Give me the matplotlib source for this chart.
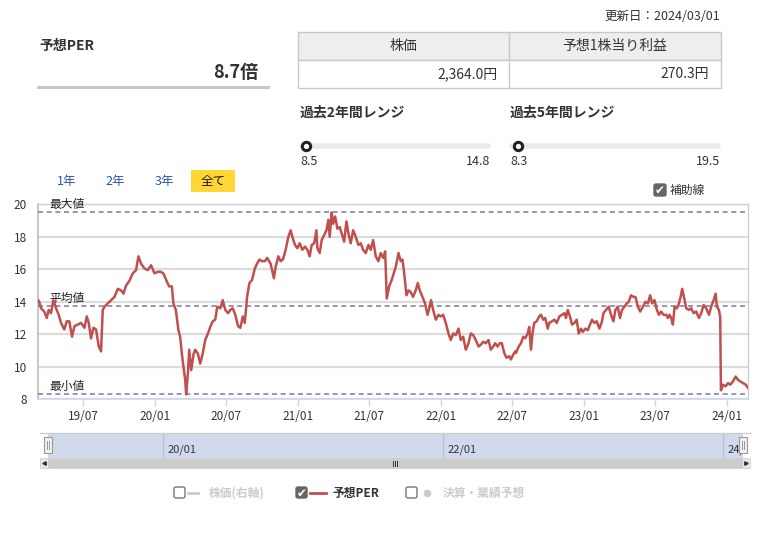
import numpy as np
import pandas as pd
import matplotlib
matplotlib.use('Agg')
import matplotlib.pyplot as plt
import matplotlib.dates as mdates
from matplotlib.patches import Rectangle, FancyBboxPatch
from matplotlib.lines import Line2D

plt.rcParams['font.family'] = ['Noto Sans CJK JP', 'DejaVu Sans']

# ------------------- データ -------------------
update_date = '2024/03/01'
current_per = 8.7
price_text = '2,364.0円'
eps_text = '270.3円'
range_2y = (8.5, 14.8)
range_5y = (8.3, 19.5)
per_max, per_avg, per_min = 19.5, 13.75, 8.3

# 予想PER（時点は小数年で読み取り）
per_year = [
    2019.181, 2019.190, 2019.202, 2019.225, 2019.242, 2019.256, 2019.272, 2019.288, 2019.307, 2019.326,
    2019.342, 2019.365, 2019.382, 2019.400, 2019.419, 2019.436, 2019.459, 2019.482, 2019.506, 2019.522,
    2019.536, 2019.552, 2019.569, 2019.587, 2019.606, 2019.622, 2019.634, 2019.646, 2019.669, 2019.692,
    2019.716, 2019.739, 2019.762, 2019.779, 2019.797, 2019.821, 2019.844, 2019.867, 2019.884, 2019.902,
    2019.926, 2019.949, 2019.972, 2019.996, 2020.019, 2020.038,
    2020.058, 2020.082, 2020.098, 2020.117, 2020.128, 2020.145, 2020.163, 2020.175, 2020.187, 2020.198,
    2020.210, 2020.217, 2020.229, 2020.238, 2020.252, 2020.269, 2020.280, 2020.299, 2020.315, 2020.332,
    2020.350, 2020.369, 2020.385, 2020.402, 2020.420, 2020.434, 2020.455, 2020.472, 2020.490, 2020.509,
    2020.525, 2020.542, 2020.560, 2020.579, 2020.595, 2020.612, 2020.626, 2020.642, 2020.658, 2020.677,
    2020.696, 2020.712, 2020.728, 2020.747, 2020.766, 2020.782, 2020.806, 2020.829,
    2020.841, 2020.860, 2020.876, 2020.892, 2020.911, 2020.930, 2020.946, 2020.958, 2020.976, 2020.993,
    2021.009, 2021.028, 2021.046, 2021.063, 2021.079, 2021.093, 2021.110, 2021.126, 2021.133, 2021.149,
    2021.163, 2021.180, 2021.196, 2021.210, 2021.219, 2021.233, 2021.243, 2021.257, 2021.273, 2021.289,
    2021.303, 2021.320, 2021.336, 2021.350, 2021.366, 2021.383, 2021.401, 2021.420, 2021.436, 2021.453,
    2021.471, 2021.490, 2021.506, 2021.523, 2021.541, 2021.560, 2021.576, 2021.593, 2021.607, 2021.618,
    2021.635, 2021.653, 2021.670,
    2021.681, 2021.700, 2021.716, 2021.728, 2021.739, 2021.756, 2021.770, 2021.786, 2021.802, 2021.821,
    2021.835, 2021.849, 2021.868, 2021.886, 2021.903, 2021.919, 2021.928, 2021.943, 2021.961, 2021.980,
    2021.996, 2022.013, 2022.031, 2022.050, 2022.066, 2022.083, 2022.101, 2022.120, 2022.136, 2022.153,
    2022.171, 2022.190, 2022.206, 2022.223, 2022.241, 2022.260, 2022.276, 2022.293, 2022.311, 2022.330,
    2022.346, 2022.363, 2022.377, 2022.393, 2022.409, 2022.423, 2022.440, 2022.456, 2022.475, 2022.487,
    2022.503, 2022.517,
    2022.522, 2022.541, 2022.557, 2022.573, 2022.587, 2022.604, 2022.615, 2022.627, 2022.639, 2022.650,
    2022.667, 2022.685, 2022.697, 2022.713, 2022.727, 2022.744, 2022.755, 2022.774, 2022.791, 2022.807,
    2022.826, 2022.844, 2022.861, 2022.872, 2022.884, 2022.900, 2022.914, 2022.931, 2022.947, 2022.961,
    2022.977, 2022.989, 2023.008, 2023.024, 2023.040, 2023.054, 2023.071, 2023.087, 2023.106, 2023.124,
    2023.134, 2023.152, 2023.171, 2023.187, 2023.204, 2023.218, 2023.234, 2023.250, 2023.264, 2023.281,
    2023.297, 2023.311, 2023.327, 2023.344, 2023.358,
    2023.375, 2023.391, 2023.410, 2023.428, 2023.445, 2023.461, 2023.475, 2023.491, 2023.508, 2023.522,
    2023.538, 2023.554, 2023.573, 2023.585, 2023.596, 2023.608, 2023.620, 2023.632, 2023.648, 2023.662,
    2023.674, 2023.685, 2023.702, 2023.713, 2023.732, 2023.748, 2023.765, 2023.783, 2023.802, 2023.818,
    2023.835, 2023.853, 2023.872, 2023.888, 2023.905, 2023.919, 2023.928, 2023.942, 2023.951, 2023.956,
    2023.970, 2023.989, 2024.005, 2024.021, 2024.040, 2024.059, 2024.075, 2024.091, 2024.110, 2024.129,
    2024.145,
]
per_value = [
    14.1, 14.0, 13.6, 13.4, 13.0, 13.5, 13.3, 14.1, 13.6, 13.2,
    12.7, 12.3, 12.8, 12.8, 11.85, 12.5, 12.6, 12.7, 12.4, 13.1,
    12.7, 11.75, 12.4, 12.3, 11.25, 10.95, 13.5, 13.7, 13.9, 14.1,
    14.3, 14.8, 14.7, 14.5, 15.0, 15.3, 15.75, 15.95, 16.8, 16.35,
    16.05, 15.95, 16.25, 15.75, 15.85, 15.85,
    15.75, 15.25, 14.95, 14.95, 13.9, 13.5, 12.25, 11.85, 10.8, 10.0,
    9.2, 8.3, 9.6, 11.05, 9.8, 10.8, 11.05, 10.8, 10.2, 10.8,
    11.65, 12.05, 12.45, 12.8, 12.9, 13.7, 13.6, 14.1, 13.5, 13.3,
    13.5, 13.6, 13.2, 12.5, 12.4, 13.1, 12.7, 14.3, 15.15, 15.35,
    16.05, 16.35, 16.6, 16.5, 16.5, 16.7, 16.35, 15.45,
    16.15, 16.8, 16.5, 16.6, 17.2, 18.0, 18.4, 18.0, 17.5, 17.3,
    17.6, 17.2, 17.4, 17.2, 16.8, 17.5, 17.6, 18.4, 17.3, 17.0,
    17.8, 18.1, 18.4, 19.05, 18.0, 19.5, 18.8, 19.25, 18.5, 18.6,
    18.2, 17.7, 18.95, 18.2, 17.6, 18.4, 18.0, 17.5, 17.6, 17.2,
    17.0, 17.5, 17.2, 17.8, 16.8, 16.5, 17.0, 16.7, 17.1, 14.2,
    14.95, 15.35, 15.85,
    16.15, 17.0, 16.5, 16.6, 15.85, 14.4, 14.7, 14.6, 14.3, 14.7,
    15.15, 14.7, 14.3, 13.9, 13.2, 13.7, 14.1, 13.5, 12.9, 13.2,
    13.1, 13.2, 12.7, 12.05, 11.65, 12.05, 11.95, 12.35, 11.65, 11.85,
    11.05, 11.45, 12.05, 11.95, 11.65, 11.25, 11.35, 11.55, 11.45, 11.65,
    11.05, 11.25, 11.45, 11.25, 11.45, 11.45, 10.85, 10.55, 10.65, 10.45,
    10.75, 10.95,
    10.85, 11.25, 11.45, 11.85, 11.75, 12.05, 12.45, 11.05, 12.15, 12.7,
    12.8, 13.1, 13.2, 12.9, 13.0, 12.35, 12.7, 12.8, 12.9, 12.7,
    13.1, 13.2, 13.3, 13.0, 13.5, 13.1, 12.6, 12.7, 12.9, 12.05,
    12.35, 12.15, 12.35, 12.25, 12.6, 12.9, 12.7, 12.8, 12.35, 12.8,
    13.3, 13.5, 13.7, 13.2, 12.8, 13.5, 13.7, 13.0, 13.5, 13.7,
    13.9, 14.0, 14.4, 14.3, 14.3,
    13.7, 13.4, 13.7, 14.0, 13.9, 14.4, 13.9, 14.1, 13.5, 13.2,
    13.4, 13.2, 13.2, 13.0, 13.2, 13.0, 12.6, 13.7, 13.6, 13.9,
    14.3, 14.8, 14.1, 13.6, 13.5, 13.6, 13.3, 13.4, 13.0, 13.3,
    13.8, 13.6, 13.2, 13.7, 14.1, 14.5, 13.7, 13.5, 13.05, 8.55,
    8.9, 8.8, 9.0, 8.9, 9.1, 9.4, 9.2, 9.1, 9.0, 8.9,
    8.7,
]

nav_ticks = ['2020-01-01', '2022-01-01', '2024-01-01']
nav_labels = ['20/01', '22/01', '24/01']
period_buttons = ['1年', '2年', '3年', '全て']
legend_items = ['株価(右軸)', '予想PER', '決算・業績予想']


def to_date(y):
    yr = int(y)
    start = pd.Timestamp(yr, 1, 1)
    ndays = (pd.Timestamp(yr + 1, 1, 1) - start).days
    return start + pd.Timedelta(days=(y - yr) * ndays)


dates = [to_date(y) for y in per_year]

# ------------------- 図（ピクセル座標ヘルパー） -------------------
W, H = 778, 554
fig = plt.figure(figsize=(W / 100, H / 100), dpi=100)
TXT = '#333333'
RED = '#c0504d'


def fx(x):
    return x / W


def fy(y):
    return 1 - y / H


def ftext(x, y, s, **kw):
    kw.setdefault('color', TXT)
    kw.setdefault('va', 'center')
    fig.text(fx(x), fy(y), s, **kw)


def frect(x0, y0, x1, y1, **kw):
    fig.add_artist(Rectangle((fx(x0), fy(y1)), (x1 - x0) / W, (y1 - y0) / H,
                             transform=fig.transFigure, **kw))


def fline(xs, ys, **kw):
    fig.add_artist(Line2D([fx(x) for x in xs], [fy(y) for y in ys],
                          transform=fig.transFigure, **kw))


def checkbox(x0, y0, size, checked):
    fc = '#666666' if checked else 'white'
    ec = '#666666' if checked else '#777777'
    fig.add_artist(FancyBboxPatch((fx(x0), fy(y0 + size)), size / W, size / H,
                                  boxstyle='round,pad=0,rounding_size=0.003',
                                  transform=fig.transFigure, fc=fc, ec=ec, lw=1))
    if checked:
        ftext(x0 + size / 2, y0 + size / 2 + 0.5, '✔', color='white', ha='center',
              fontsize=8.5, family=['DejaVu Sans'])


# ------------------- ヘッダー -------------------
ftext(39, 46, '予想PER', fontsize=10, fontweight='bold')
ftext(258, 73, f'{current_per}倍', fontsize=13, fontweight='bold', ha='right')
fline([38, 268], [87, 87], color='#c8c8c8', lw=2.2)

ftext(720, 17, f'更新日：{update_date}', fontsize=9, ha='right')

frect(298, 32, 721, 60, fc='#eeeeee', ec='#c8c8c8', lw=1)
frect(298, 60, 721, 88, fc='white', ec='#c8c8c8', lw=1)
fline([509, 509], [32, 88], color='#c8c8c8', lw=1)
ftext(403, 46, '株価', fontsize=10, ha='center')
ftext(615, 46, '予想1株当り利益', fontsize=10, ha='center')
ftext(498, 74, price_text, fontsize=10, ha='right')
ftext(709, 74, eps_text, fontsize=10, ha='right')

# レンジスライダー
for title, (lo, hi), x0, x1 in [('過去2年間レンジ', range_2y, 300, 490),
                                ('過去5年間レンジ', range_5y, 510, 720)]:
    ftext(x0, 113, title, fontsize=10, fontweight='bold')
    fline([x0 + 2, x1 - 2], [146, 146], color='#ebebeb', lw=4, solid_capstyle='round')
    pos = x0 + (current_per - lo) / (hi - lo) * (x1 - x0)
    fline([pos], [146], marker='o', ms=6, mfc='white', mec='#222222', mew=2.2, lw=0)
    ftext(x0, 162, f'{lo}', fontsize=9)
    ftext(x1, 162, f'{hi}', fontsize=9, ha='right')

# 期間ボタン
btn_x = [66.5, 115.5, 164, 213]
frect(191, 170, 235, 192, fc='#ffd633', ec='none')
for lab, bx in zip(period_buttons, btn_x):
    col = '#111111' if lab == '全て' else '#2a55a8'
    ftext(bx, 181, lab, fontsize=9, ha='center', color=col)

checkbox(654, 184, 12, True)
ftext(670, 190, '補助線', fontsize=8.5)

# ------------------- メインチャート -------------------
ax = fig.add_axes([fx(38), fy(399.3), (748 - 38) / W, (399.3 - 204.3) / H])
ax.plot(dates, per_value, color=RED, lw=1.8, zorder=4)
ax.set_xlim(dates[0], dates[-1])
ax.set_ylim(8, 20)
ax.set_yticks(np.arange(8, 21, 2))
ax.grid(axis='y', color='#dcdcdc', lw=1.6)
ax.set_axisbelow(True)

for val, lab in [(per_max, '最大値'), (per_avg, '平均値'), (per_min, '最小値')]:
    ax.axhline(val, color='#8e80a8', lw=1.2, ls=(0, (3, 2.2)), zorder=3)
    ax.annotate(lab, xy=(0.0155, val), xycoords=('axes fraction', 'data'),
                xytext=(0, 5.5), textcoords='offset points', va='center',
                fontsize=8.5, color='#222222', zorder=5)

ax.xaxis.set_major_locator(mdates.MonthLocator(bymonth=[1, 7]))
ax.xaxis.set_major_formatter(mdates.DateFormatter('%y/%m'))
ax.tick_params(axis='x', colors='#ccd6eb', length=5, width=1, labelcolor=TXT,
               labelsize=8.5, pad=3)
ax.tick_params(axis='y', length=0, labelcolor=TXT, labelsize=8.5, pad=8)
ax.spines['left'].set_color('#bdbdbd')
ax.spines['left'].set_linewidth(1.2)
ax.spines['bottom'].set_color('#ccd6eb')
ax.spines['bottom'].set_linewidth(1.2)
for s in ['top', 'right']:
    ax.spines[s].set_color('#cfcfcf')
    ax.spines[s].set_linewidth(1)

# ------------------- ナビゲーター -------------------
nav = fig.add_axes([fx(48), fy(458), (743 - 48) / W, 25 / H])
nav.set_facecolor('#d1daed')
nav.set_xlim(dates[0], dates[-1])
nav.set_ylim(0, 1)
nav.set_xticks([])
nav.set_yticks([])
for s in nav.spines.values():
    s.set_visible(False)
for d, lab in zip(nav_ticks, nav_labels):
    t = pd.Timestamp(d)
    nav.axvline(t, color='#b6c0d6', lw=1)
    nav.text(t + pd.Timedelta(days=12), 0.34, lab, fontsize=8, color=TXT,
             va='center', clip_on=True)
fline([40, 750], [433, 433], color='#cccccc', lw=1)

for hx in [48, 743]:
    frect(hx - 4, 437, hx + 4, 453, fc='#f2f2f2', ec='#999999', lw=0.8)
    fline([hx - 1, hx - 1], [441, 449], color='#999999', lw=0.7)
    fline([hx + 1, hx + 1], [441, 449], color='#999999', lw=0.7)

# スクロールバー
frect(40, 458, 750, 468, fc='#f2f2f2', ec='none')
frect(48, 458, 742, 468, fc='#cccccc', ec='#cccccc', lw=0.5)
frect(40, 458, 48, 468, fc='#e6e6e6', ec='#cccccc', lw=0.5)
frect(742, 458, 750, 468, fc='#e6e6e6', ec='#cccccc', lw=0.5)
fline([44], [463], marker='<', ms=2.5, color='#333333', lw=0)
fline([746], [463], marker='>', ms=2.5, color='#333333', lw=0)
for gx in [393, 395, 397]:
    fline([gx, gx], [460.5, 465.5], color='#333333', lw=0.7)

# ------------------- 凡例 -------------------
checkbox(174, 487, 11, False)
fline([188, 198], [493, 493], color='#cccccc', lw=2)
ftext(209, 493, legend_items[0], fontsize=8.5, fontweight='bold', color='#cccccc')
checkbox(296, 487, 11, True)
fline([310, 326], [493, 493], color=RED, lw=2)
ftext(332, 493, legend_items[1], fontsize=8.5, fontweight='bold')
checkbox(406, 487, 11, False)
fline([427], [493], marker='o', ms=4.5, color='#cccccc', lw=0)
ftext(443, 493, legend_items[2], fontsize=8.5, fontweight='bold', color='#cccccc')

fig.savefig('out.png', dpi=100)
